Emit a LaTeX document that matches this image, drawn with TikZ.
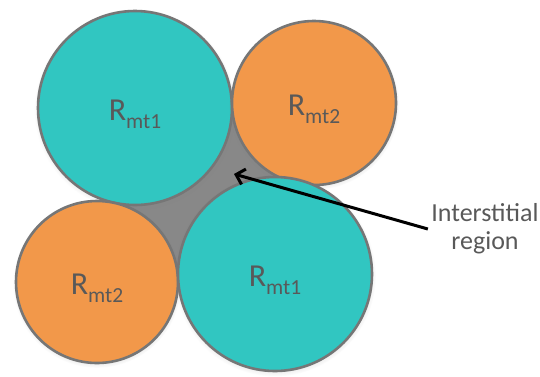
\documentclass[tikz,border=0pt]{standalone}
\usepackage{fontspec}
\setmainfont{Carlito}
\usetikzlibrary{arrows.meta,backgrounds,shadows}
\definecolor{tealfill}{HTML}{31C6C1}
\definecolor{orangefill}{HTML}{F2984A}
\definecolor{rimgray}{HTML}{767676}
\definecolor{gapgray}{HTML}{888888}
\definecolor{labelgray}{HTML}{595959}
\newcommand{\rmt}[1]{R\raisebox{-0.26em}{\fontsize{21.5}{21.5}\selectfont mt#1}}
\begin{document}
\begin{tikzpicture}[x=1pt, y=-1pt,
  tube/.style={circle, draw=rimgray, line width=2.6pt, inner sep=0pt,
    text=labelgray, font=\fontsize{32}{32}\selectfont,
    text height=32pt, text depth=8pt,
    circular drop shadow={shadow scale=1.04, shadow xshift=0pt, shadow yshift=-1.5pt, opacity=0.35}},
  bigtube/.style={tube, fill=tealfill, minimum size=194pt},
  smalltube/.style={tube, fill=orangefill},
  pointer/.style={line width=3pt, -{Straight Barb[length=8pt,width=16pt]}}
]
\useasboundingbox (0,0) rectangle (540,376);

\node[bigtube] (tl) at (135,108) {\rmt{1}};
\node[smalltube, minimum size=164pt] (tr) at (314,103) {\rmt{2}};
\node[smalltube, minimum size=162pt] (bl) at (97,282) {\rmt{2}};
\node[bigtube] (br) at (275,274) {\rmt{1}};

% interstitial gap behind the four tubes
\begin{scope}[on background layer]
  \fill[gapgray] (tl.center) -- (tr.center) -- (br.center) -- (bl.center) -- cycle;
\end{scope}

\node[align=center, text=labelgray, font=\fontsize{26}{28}\selectfont] (note) at (485,229) {Interstitial\\region};
\coordinate (gap) at (234,174);
\draw[pointer] (note.west) -- (gap);
\end{tikzpicture}
\end{document}
